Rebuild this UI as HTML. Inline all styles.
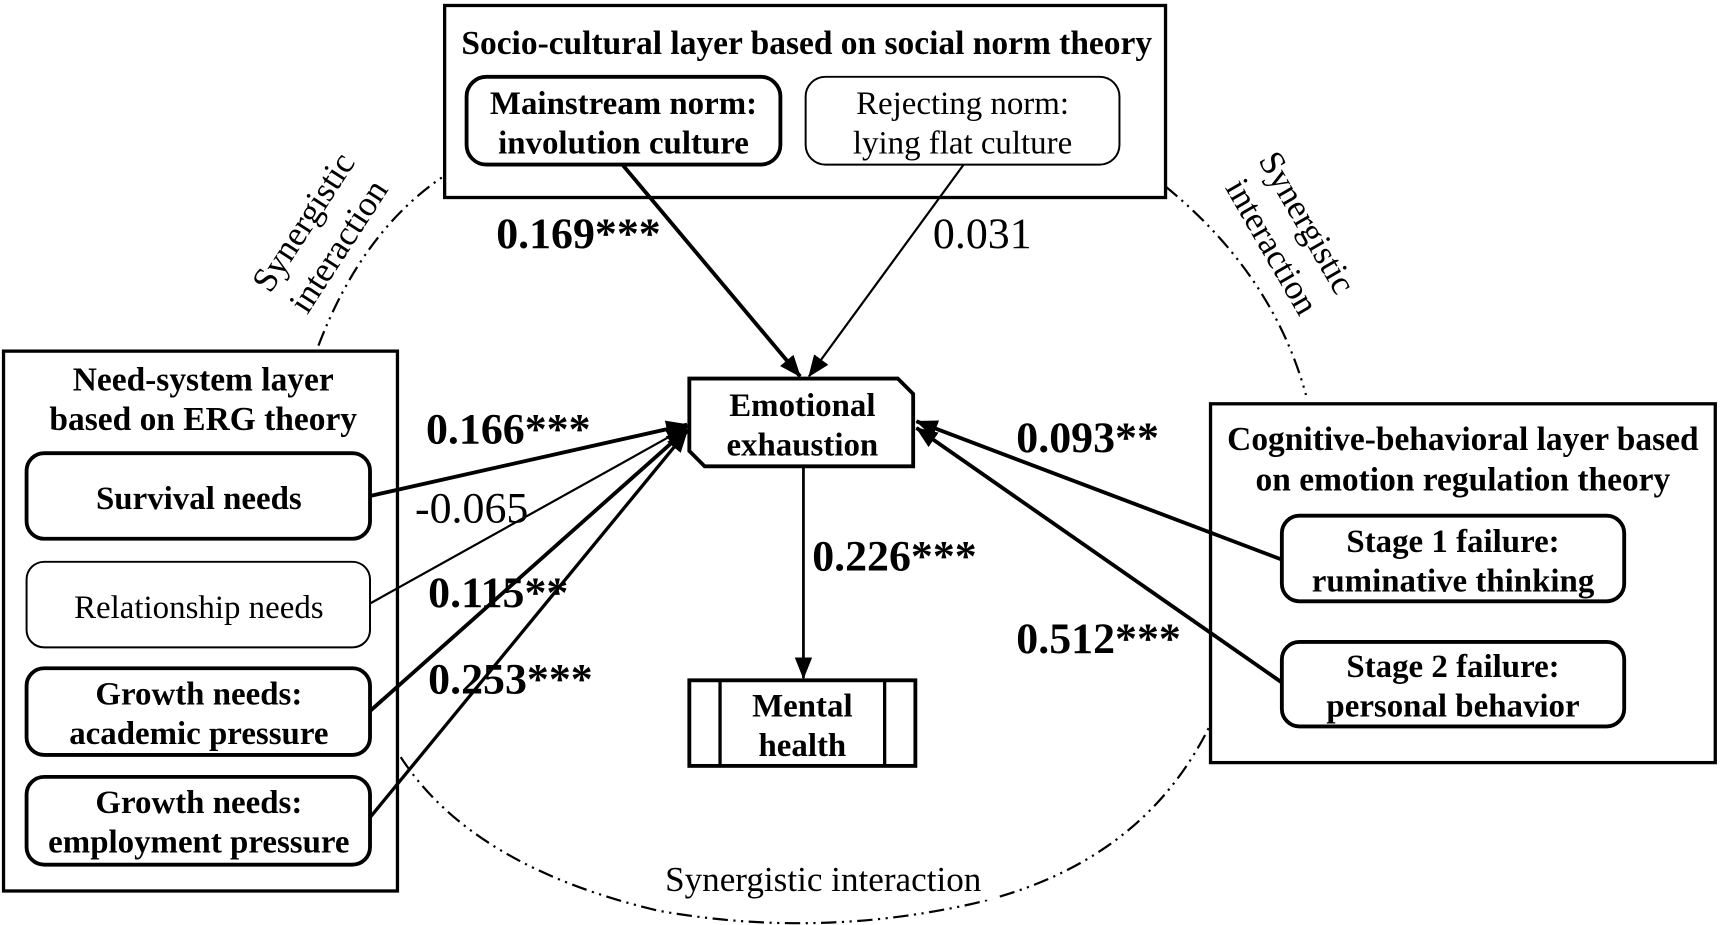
<!DOCTYPE html>
<html><head><meta charset="utf-8"><style>
html,body{margin:0;padding:0;background:#fff;}
svg{display:block;}
text{font-family:"Liberation Serif",serif;fill:#000;}
.b{font-weight:bold;}
</style></head><body>
<svg width="1721" height="925" viewBox="0 0 1568 843" xmlns="http://www.w3.org/2000/svg">
<defs>
<marker id="a" viewBox="0 0 20 16" refX="19" refY="8" markerWidth="20" markerHeight="16" markerUnits="userSpaceOnUse" orient="auto"><path d="M0,0 L20,8 L0,16 z" fill="#000"/></marker>
</defs>
<g fill="none" stroke="#000" stroke-width="2" stroke-dasharray="14 5 2 5 2 5">
<path d="M290,315 Q330,210 405,160"/>
<path d="M1062,170 Q1160,250 1190,360"/>
<path d="M365,690 Q430,790 600,830 Q740,855 880,825 Q1040,790 1103,660"/>
</g>
<rect x="592" y="785" width="318" height="35" fill="#fff"/>
<text x="750" y="812" font-size="32" text-anchor="middle">Synergistic interaction</text>
<text transform="translate(285,208) rotate(-57)" font-size="32" text-anchor="middle">Synergistic</text>
<text transform="translate(317,230) rotate(-57)" font-size="32" text-anchor="middle">interaction</text>
<text transform="translate(1182,208) rotate(60)" font-size="32" text-anchor="middle">Synergistic</text>
<text transform="translate(1150,230) rotate(60)" font-size="32" text-anchor="middle">interaction</text>

<rect x="405" y="5" width="657" height="175" fill="#fff" stroke="#000" stroke-width="3"/>
<text x="735" y="49" font-size="30.5" class="b" text-anchor="middle">Socio-cultural layer based on social norm theory</text>
<rect x="425" y="70" width="286" height="80" rx="18" fill="#fff" stroke="#000" stroke-width="3.5"/>
<text x="568" y="104" font-size="30" class="b" text-anchor="middle">Mainstream norm:</text>
<text x="568" y="140" font-size="30" class="b" text-anchor="middle">involution culture</text>
<rect x="734" y="70" width="286" height="80" rx="18" fill="#fff" stroke="#000" stroke-width="1.8"/>
<text x="877" y="104" font-size="30" text-anchor="middle">Rejecting norm:</text>
<text x="877" y="140" font-size="30" text-anchor="middle">lying flat culture</text>

<rect x="3" y="320" width="359" height="492" fill="#fff" stroke="#000" stroke-width="3"/>
<text x="185" y="356" font-size="30.5" class="b" text-anchor="middle">Need-system layer</text>
<text x="185" y="392" font-size="30.5" class="b" text-anchor="middle">based on ERG theory</text>
<rect x="24" y="413" width="313" height="78" rx="16" fill="#fff" stroke="#000" stroke-width="3.5"/>
<text x="181" y="464" font-size="30" class="b" text-anchor="middle">Survival needs</text>
<rect x="24" y="512" width="313" height="78" rx="16" fill="#fff" stroke="#000" stroke-width="1.8"/>
<text x="181" y="563" font-size="30" text-anchor="middle">Relationship needs</text>
<rect x="24" y="609" width="313" height="79" rx="16" fill="#fff" stroke="#000" stroke-width="3.5"/>
<text x="181" y="642" font-size="30" class="b" text-anchor="middle">Growth needs:</text>
<text x="181" y="678" font-size="30" class="b" text-anchor="middle">academic pressure</text>
<rect x="24" y="708" width="313" height="80" rx="16" fill="#fff" stroke="#000" stroke-width="3.5"/>
<text x="181" y="741" font-size="30" class="b" text-anchor="middle">Growth needs:</text>
<text x="181" y="777" font-size="30" class="b" text-anchor="middle">employment pressure</text>

<rect x="1103" y="368" width="460" height="327" fill="#fff" stroke="#000" stroke-width="3"/>
<text x="1333" y="410" font-size="30.5" class="b" text-anchor="middle">Cognitive-behavioral layer based</text>
<text x="1333" y="447" font-size="30.5" class="b" text-anchor="middle">on emotion regulation theory</text>
<rect x="1168" y="470" width="312" height="78" rx="16" fill="#fff" stroke="#000" stroke-width="3.5"/>
<text x="1324" y="503" font-size="30" class="b" text-anchor="middle">Stage 1 failure:</text>
<text x="1324" y="539" font-size="30" class="b" text-anchor="middle">ruminative thinking</text>
<rect x="1168" y="585" width="312" height="77" rx="16" fill="#fff" stroke="#000" stroke-width="3.5"/>
<text x="1324" y="617" font-size="30" class="b" text-anchor="middle">Stage 2 failure:</text>
<text x="1324" y="653" font-size="30" class="b" text-anchor="middle">personal behavior</text>

<path d="M628,345 L818,345 L832,359 L832,425 L642,425 L628,411 Z" fill="#fff" stroke="#000" stroke-width="3.5"/>
<text x="731" y="379" font-size="30" class="b" text-anchor="middle">Emotional</text>
<text x="731" y="415" font-size="30" class="b" text-anchor="middle">exhaustion</text>
<rect x="628" y="620" width="206" height="78" fill="#fff" stroke="#000" stroke-width="3.5"/>
<line x1="656" y1="620" x2="656" y2="698" stroke="#000" stroke-width="3"/>
<line x1="806" y1="620" x2="806" y2="698" stroke="#000" stroke-width="3"/>
<text x="731" y="653" font-size="30" class="b" text-anchor="middle">Mental</text>
<text x="731" y="689" font-size="30" class="b" text-anchor="middle">health</text>

<g stroke="#000" fill="none">
<line x1="567" y1="150" x2="729" y2="343" stroke-width="3.5" marker-end="url(#a)"/>
<line x1="878" y1="150" x2="737" y2="343" stroke-width="2" marker-end="url(#a)"/>
<line x1="337" y1="452" x2="626" y2="387" stroke-width="3.5" marker-end="url(#a)"/>
<line x1="337" y1="550" x2="626" y2="389" stroke-width="2" marker-end="url(#a)"/>
<line x1="337" y1="648" x2="626" y2="391" stroke-width="3.5" marker-end="url(#a)"/>
<line x1="337" y1="745" x2="626" y2="393" stroke-width="3" marker-end="url(#a)"/>
<line x1="1168" y1="510" x2="835" y2="384" stroke-width="3.5" marker-end="url(#a)"/>
<line x1="1168" y1="622" x2="835" y2="390" stroke-width="3.5" marker-end="url(#a)"/>
<line x1="732" y1="425" x2="732" y2="618" stroke-width="2.5" marker-end="url(#a)"/>
</g>

<text x="452" y="226" font-size="40" class="b">0.169***</text>
<text x="850" y="226" font-size="40">0.031</text>
<text x="388" y="404" font-size="40" class="b">0.166***</text>
<text x="378" y="476" font-size="40">-0.065</text>
<text x="390" y="553" font-size="40" class="b">0.115**</text>
<text x="390" y="632" font-size="40" class="b">0.253***</text>
<text x="740" y="520" font-size="40" class="b">0.226***</text>
<text x="926" y="412" font-size="40" class="b">0.093**</text>
<text x="926" y="595" font-size="40" class="b">0.512***</text>
</svg>
</body></html>
